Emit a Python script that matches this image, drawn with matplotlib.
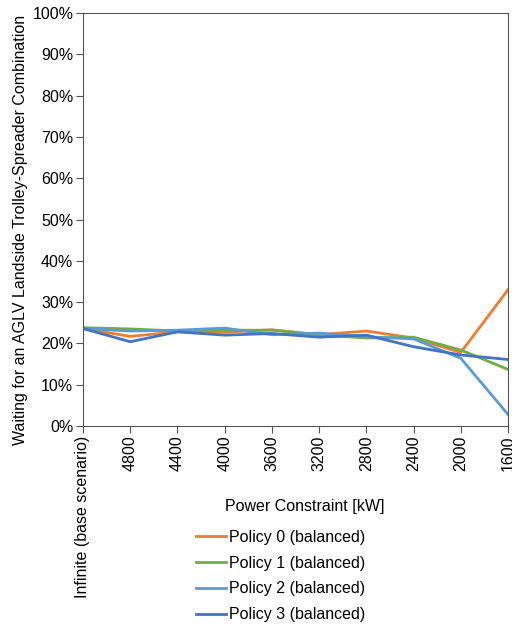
import numpy as np
import matplotlib
matplotlib.use("Agg")
import matplotlib.pyplot as plt
from matplotlib.ticker import PercentFormatter

plt.rcParams['font.family']=['Liberation Sans','DejaVu Sans']

categories=["Infinite (base scenario)","4800","4400","4000","3600","3200","2800","2400","2000","1600"]

policy0=[23.6,21.7,22.8,22.7,23.3,22.1,23.0,21.3,17.8,33.0]
policy1=[23.8,23.5,23.0,23.2,23.2,22.1,21.3,21.5,18.4,13.7]
policy2=[23.6,23.0,23.2,23.7,22.1,22.5,21.6,21.1,16.4,2.8]
policy3=[23.6,20.4,22.8,22.0,22.4,21.5,22.0,19.2,17.2,16.1]

series=[("Policy 0 (balanced)",policy0,"#ED7D31"),
        ("Policy 1 (balanced)",policy1,"#70AD47"),
        ("Policy 2 (balanced)",policy2,"#5B9BD5"),
        ("Policy 3 (balanced)",policy3,"#4472C4")]

fs=11.5

fig=plt.figure(figsize=(5.12,6.28),dpi=100)
ax=fig.add_axes([83/512,(628-426)/628,425/512,413/628])

x=np.arange(len(categories))
for label,vals,col in series:
    ax.plot(x,vals,color=col,lw=2,label=label)

ax.set_xlim(0,len(categories)-1)
ax.set_ylim(0,100)
ax.set_yticks(np.arange(0,101,10))
ax.yaxis.set_major_formatter(PercentFormatter(decimals=0))
ax.set_xticks(x)
ax.set_xticklabels(categories,rotation=90)
ax.tick_params(axis='both',labelsize=fs,direction='out',length=5,color='#555555',pad=2)
for sp in ax.spines.values():
    sp.set_color('#555555')

ax.set_ylabel("Waiting for an AGLV Landside Trolley-Spreader Combination",fontsize=fs,labelpad=4)
ax.yaxis.set_label_coords(-0.13,0.475)
# x label sits right of the long rotated tick label, so place it by hand
fig.text(305/512,1-506/628,"Power Constraint [kW]",fontsize=fs,ha='center',va='center')

fig.legend(*ax.get_legend_handles_labels(),loc='upper left',bbox_to_anchor=(196/512,1-530/628),
           frameon=False,fontsize=fs,handlelength=1.9,handletextpad=0.15,
           labelspacing=0.67,borderpad=0,borderaxespad=0)

fig.savefig("out.png",dpi=100)
